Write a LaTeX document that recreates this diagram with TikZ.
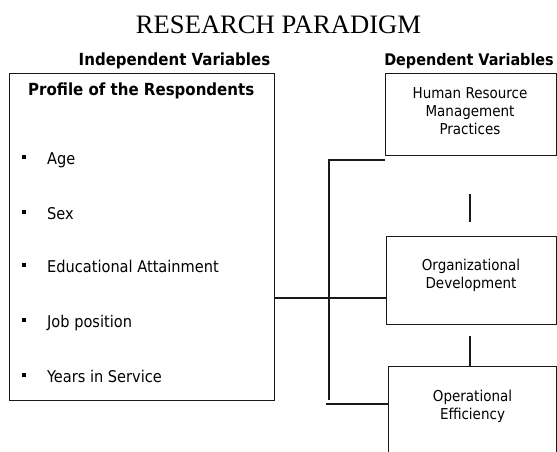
\documentclass[tikz,border=0pt]{standalone}
\usepackage{fontspec}
\setmainfont{Liberation Serif}
\newfontfamily\bodyfont{DejaVu Sans Condensed}
\begin{document}
\begin{tikzpicture}[x=1pt,y=-1pt,
  frame/.style={draw=black!90, line width=1.2pt, inner sep=0pt, anchor=north west},
  link/.style={draw=black!90, line width=1.2pt},
  titletext/.style={font=\fontsize{26.6}{30}\selectfont, inner sep=0pt, anchor=base},
  headtext/.style={font=\bodyfont\bfseries\fontsize{16.7}{20}\selectfont, inner sep=0pt},
  itemtext/.style={font=\bodyfont\fontsize{16.2}{19}\selectfont, inner sep=0pt, anchor=base west},
  boxtext/.style={font=\bodyfont\fontsize{15}{17.8}\selectfont, align=center, inner sep=0pt},
  dot/.style={fill=black, minimum size=4pt, inner sep=0pt}]
\useasboundingbox (0,0) rectangle (557,452);

% title and column headings
\node[titletext] (title) at (278.5,33.3) {RESEARCH PARADIGM};
\node[headtext, anchor=base] (indep) at (174.5,66) {Independent Variables};
\node[headtext, font=\bodyfont\bfseries\fontsize{16}{20}\selectfont, anchor=base east] (dep) at (554,66) {Dependent Variables};

% independent variables box
\node[frame, minimum width=265pt, minimum height=327pt] (profile) at (9,73) {};
\node[headtext, anchor=base west] (proftitle) at (28,95.5) {Profile of the Respondents};
\foreach \n/\t/\b in {a/Age/164, b/Sex/219, c/Educational Attainment/272.5,
                      d/Job position/327, e/Years in Service/382}{
  \node[dot] (bul\n) at (24,\b-7.5) {};
  \node[itemtext] (item\n) at (47,\b) {\t};
}

% dependent variables boxes
\node[frame, minimum width=171pt, minimum height=82pt] (hrm) at (384.5,73) {};
\node[boxtext] (hrmtext) at (470,111) {Human Resource\\Management\\Practices};
\node[frame, minimum width=169.5pt, minimum height=88pt] (org) at (386,236) {};
\node[boxtext] (orgtext) at (471,275) {Organizational\\Development};
\node[frame, minimum width=167.5pt, minimum height=95pt] (ops) at (388,366) {};
\node[boxtext] (opstext) at (472.5,406.5) {Operational\\Efficiency};

% connector points
\coordinate (mid) at (300,298);
\coordinate (trunktop) at (329,160);
\coordinate (trunkbot) at (329,400);
\coordinate (foot) at (326,404);
\coordinate (stubA) at (470,194);
\coordinate (stubB) at (470,222);
\coordinate (stubC) at (470,336);

% connectors
\draw[link] (profile.east |- mid) -- (org.west |- mid);
\draw[link] (hrm.south west |- trunktop) -- (trunktop) -- (trunkbot);
\draw[link] (foot) -- (ops.west |- foot);
\draw[link] (stubA) -- (stubB);
\draw[link] (stubC) -- (stubC |- ops.north);
\end{tikzpicture}
\end{document}
